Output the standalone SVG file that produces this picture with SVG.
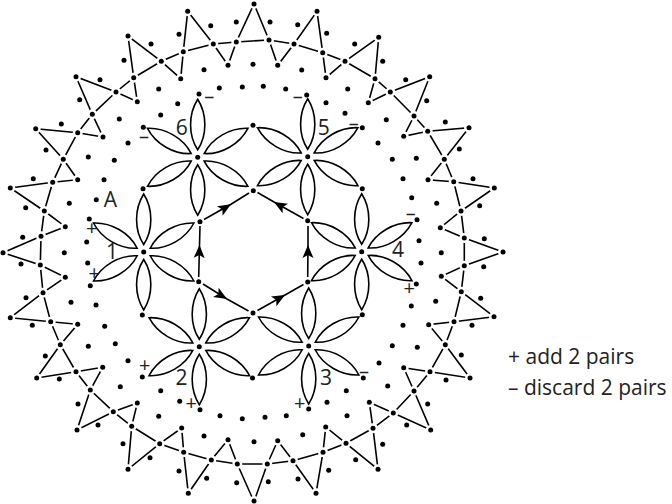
<svg xmlns="http://www.w3.org/2000/svg" width="672" height="504" viewBox="0 0 672 504">
<style>
text{font-family:"Open Sans","Noto Sans",sans-serif;fill:#222}
.n{font-size:21px;text-anchor:middle}
.m{font-size:20px;text-anchor:middle}
.l{font-size:21px}
.s{fill:none;stroke:#000;stroke-width:1.6}
.d{fill:#000}
.h{fill:#000;stroke:#fff;stroke-width:5;paint-order:stroke}
</style>
<defs>
<path id="p" class="s" d="M0,-7.5C-9.5,-22 -9.5,-43 0,-58C9.5,-43 9.5,-22 0,-7.5Z"/>
<g id="petals">
<use href="#p"/><use href="#p" transform="rotate(60)"/><use href="#p" transform="rotate(120)"/><use href="#p" transform="rotate(180)"/><use href="#p" transform="rotate(240)"/><use href="#p" transform="rotate(300)"/>
</g>
<marker id="a" markerUnits="userSpaceOnUse" markerWidth="16" markerHeight="14" refX="14" refY="7" orient="auto">
<path d="M14,7L1,1.5L4,7L1,12.5Z" fill="#000"/>
</marker>
</defs>
<g id="connectors">
<path id="ring" class="s" d="M41,236.3L44.3,211L52.7,182.3L63.3,159.3L77.7,132.7L92.3,114.3L116,92L133.7,77.7L161.3,61.3L183.3,51.7L213.3,44L236.3,42L269,40L294,44L322.7,52.7L345,61.3L375,78.7L390.3,92L414,116L427.7,131.3L444.3,159.3L453.7,181.7L461,211L464.3,238L464.3,265.7L461.3,291.7L454,321.7L445.3,344.7L430,371.7L414,391L393.3,413L373,428.3L346,443.3L323,452.3L293,460.7L267.3,464L237.3,464L211.3,460L183.7,452.3L159.7,443.7L131.7,426.3L113.3,411.7L90.3,390L76,371.7L60.3,344.7L50.7,321.7L43,292.7L40.3,265Z"/>
<path id="bows" class="s" d="M183.3,51.7L187.7,11.3L213.3,44L228,65.3L236.3,42L254,4L269,40L277.7,65.3L294,44L317,11.3L322.7,52.7L326,77.7L345,61.3L378.7,37.3L375,78.7L368.3,102.7L390.3,92L429.7,76.7L414,116L403.7,136.3L427.7,131.3L469,127.7L444.3,159.3L428,179.7L453.7,181.7L494.3,188L461,211L440.3,227.7L464.3,238L503,252L464.3,265.7L441.3,276.3L461.3,291.7L494,316.7L454,321.7L428.7,324.7L445.3,344.7L470,378L430,371.7L403.7,367.7L414,391L430.7,430L393.3,413L369.3,402.3L373,428.3L378,469.3L346,443.3L325.7,427L323,452.3L316,493.3L293,460.7L277.7,440.7L267.3,464L254,501.7L237.3,464L228,439.7L211.3,460L188.3,493.3L183.7,452.3L181.7,428L159.7,443.7L128,469.3L131.7,426.3L137.3,403L113.3,411.7L77,430L90.3,390L102.7,367.3L76,371.7L36.7,378L60.3,344.7L77.7,324.3L50.7,321.7L10.3,317.7L43,292.7L65.3,277.3L40.3,265L3,252.7L41,236.3L65.3,226.7L44.3,211L10.3,188L52.7,182.3L77.7,179.7L63.3,159.3L35.7,128.7L77.7,132.7L103,137L92.3,114.3L76,76.7L116,92L137.3,101.7L133.7,77.7L128,36L161.3,61.3L180.7,78.7L183.3,51.7"/>
<path class="s" marker-mid="url(#a)" d="M198.7,277L199.5,245L200,226"/>
<path class="s" marker-mid="url(#a)" d="M204,219.5L231,204.3L249,193"/>
<path class="s" marker-mid="url(#a)" d="M303.5,218.5L274,202L257.5,192.5"/>
<path class="s" marker-mid="url(#a)" d="M307.7,277L308,245L308,226"/>
<path class="s" marker-mid="url(#a)" d="M203,284L227,299L248.5,311"/>
<path class="s" marker-mid="url(#a)" d="M257.5,310.5L285,295L303.5,284.5"/>
</g>
<g id="ring-dots">
<circle class="h" r="2.5" cx="41" cy="236.3"/><circle class="h" r="2.5" cx="44.3" cy="211"/><circle class="h" r="2.5" cx="52.7" cy="182.3"/><circle class="h" r="2.5" cx="63.3" cy="159.3"/><circle class="h" r="2.5" cx="77.7" cy="132.7"/><circle class="h" r="2.5" cx="92.3" cy="114.3"/><circle class="h" r="2.5" cx="116" cy="92"/><circle class="h" r="2.5" cx="133.7" cy="77.7"/><circle class="h" r="2.5" cx="161.3" cy="61.3"/><circle class="h" r="2.5" cx="183.3" cy="51.7"/><circle class="h" r="2.5" cx="213.3" cy="44"/><circle class="h" r="2.5" cx="236.3" cy="42"/><circle class="h" r="2.5" cx="269" cy="40"/><circle class="h" r="2.5" cx="294" cy="44"/><circle class="h" r="2.5" cx="322.7" cy="52.7"/><circle class="h" r="2.5" cx="345" cy="61.3"/><circle class="h" r="2.5" cx="375" cy="78.7"/><circle class="h" r="2.5" cx="390.3" cy="92"/><circle class="h" r="2.5" cx="414" cy="116"/><circle class="h" r="2.5" cx="427.7" cy="131.3"/><circle class="h" r="2.5" cx="444.3" cy="159.3"/><circle class="h" r="2.5" cx="453.7" cy="181.7"/><circle class="h" r="2.5" cx="461" cy="211"/><circle class="h" r="2.5" cx="464.3" cy="238"/><circle class="h" r="2.5" cx="464.3" cy="265.7"/><circle class="h" r="2.5" cx="461.3" cy="291.7"/><circle class="h" r="2.5" cx="454" cy="321.7"/><circle class="h" r="2.5" cx="445.3" cy="344.7"/><circle class="h" r="2.5" cx="430" cy="371.7"/><circle class="h" r="2.5" cx="414" cy="391"/><circle class="h" r="2.5" cx="393.3" cy="413"/><circle class="h" r="2.5" cx="373" cy="428.3"/><circle class="h" r="2.5" cx="346" cy="443.3"/><circle class="h" r="2.5" cx="323" cy="452.3"/><circle class="h" r="2.5" cx="293" cy="460.7"/><circle class="h" r="2.5" cx="267.3" cy="464"/><circle class="h" r="2.5" cx="237.3" cy="464"/><circle class="h" r="2.5" cx="211.3" cy="460"/><circle class="h" r="2.5" cx="183.7" cy="452.3"/><circle class="h" r="2.5" cx="159.7" cy="443.7"/><circle class="h" r="2.5" cx="131.7" cy="426.3"/><circle class="h" r="2.5" cx="113.3" cy="411.7"/><circle class="h" r="2.5" cx="90.3" cy="390"/><circle class="h" r="2.5" cx="76" cy="371.7"/><circle class="h" r="2.5" cx="60.3" cy="344.7"/><circle class="h" r="2.5" cx="50.7" cy="321.7"/><circle class="h" r="2.5" cx="43" cy="292.7"/><circle class="h" r="2.5" cx="40.3" cy="265"/>
</g>
<g id="tip-dots">
<circle class="h" r="2.5" cx="187.7" cy="11.3"/><circle class="h" r="2.5" cx="228" cy="65.3"/><circle class="h" r="2.5" cx="254" cy="4"/><circle class="h" r="2.5" cx="277.7" cy="65.3"/><circle class="h" r="2.5" cx="317" cy="11.3"/><circle class="h" r="2.5" cx="326" cy="77.7"/><circle class="h" r="2.5" cx="378.7" cy="37.3"/><circle class="h" r="2.5" cx="368.3" cy="102.7"/><circle class="h" r="2.5" cx="429.7" cy="76.7"/><circle class="h" r="2.5" cx="403.7" cy="136.3"/><circle class="h" r="2.5" cx="469" cy="127.7"/><circle class="h" r="2.5" cx="428" cy="179.7"/><circle class="h" r="2.5" cx="494.3" cy="188"/><circle class="h" r="2.5" cx="440.3" cy="227.7"/><circle class="h" r="2.5" cx="503" cy="252"/><circle class="h" r="2.5" cx="441.3" cy="276.3"/><circle class="h" r="2.5" cx="494" cy="316.7"/><circle class="h" r="2.5" cx="428.7" cy="324.7"/><circle class="h" r="2.5" cx="470" cy="378"/><circle class="h" r="2.5" cx="403.7" cy="367.7"/><circle class="h" r="2.5" cx="430.7" cy="430"/><circle class="h" r="2.5" cx="369.3" cy="402.3"/><circle class="h" r="2.5" cx="378" cy="469.3"/><circle class="h" r="2.5" cx="325.7" cy="427"/><circle class="h" r="2.5" cx="316" cy="493.3"/><circle class="h" r="2.5" cx="277.7" cy="440.7"/><circle class="h" r="2.5" cx="254" cy="501"/><circle class="h" r="2.5" cx="228" cy="439.7"/><circle class="h" r="2.5" cx="188.3" cy="493.3"/><circle class="h" r="2.5" cx="181.7" cy="428"/><circle class="h" r="2.5" cx="128" cy="469.3"/><circle class="h" r="2.5" cx="137.3" cy="403"/><circle class="h" r="2.5" cx="77" cy="430"/><circle class="h" r="2.5" cx="102.7" cy="367.3"/><circle class="h" r="2.5" cx="36.7" cy="378"/><circle class="h" r="2.5" cx="77.7" cy="324.3"/><circle class="h" r="2.5" cx="10.3" cy="317.7"/><circle class="h" r="2.5" cx="65.3" cy="277.3"/><circle class="h" r="2.5" cx="3" cy="252.7"/><circle class="h" r="2.5" cx="65.3" cy="226.7"/><circle class="h" r="2.5" cx="10.3" cy="188"/><circle class="h" r="2.5" cx="77.7" cy="179.7"/><circle class="h" r="2.5" cx="35.7" cy="128.7"/><circle class="h" r="2.5" cx="103" cy="137"/><circle class="h" r="2.5" cx="76" cy="76.7"/><circle class="h" r="2.5" cx="137.3" cy="101.7"/><circle class="h" r="2.5" cx="128" cy="36"/><circle class="h" r="2.5" cx="180.7" cy="78.7"/>
</g>
<g id="free-dots">
<circle class="d" r="2.5" cx="210.7" cy="25.7"/><circle class="d" r="2.5" cx="179" cy="34.3"/><circle class="d" r="2.5" cx="124" cy="60.3"/><circle class="d" r="2.5" cx="151" cy="44"/><circle class="d" r="2.5" cx="79.7" cy="99.7"/><circle class="d" r="2.5" cx="100" cy="79.7"/><circle class="d" r="2.5" cx="46" cy="150"/><circle class="d" r="2.5" cx="61.3" cy="124"/><circle class="d" r="2.5" cx="25.7" cy="207.7"/><circle class="d" r="2.5" cx="33.3" cy="178.7"/><circle class="d" r="2.5" cx="22.7" cy="237.3"/><circle class="d" r="2.5" cx="21" cy="264"/><circle class="d" r="2.5" cx="26" cy="297.7"/><circle class="d" r="2.5" cx="32.3" cy="325.3"/><circle class="d" r="2.5" cx="45.3" cy="356"/><circle class="d" r="2.5" cx="59.3" cy="379"/><circle class="d" r="2.5" cx="78" cy="404"/><circle class="d" r="2.5" cx="98" cy="425"/><circle class="d" r="2.5" cx="123" cy="443.7"/><circle class="d" r="2.5" cx="150" cy="457.7"/><circle class="d" r="2.5" cx="179" cy="471"/><circle class="d" r="2.5" cx="206.7" cy="478.3"/><circle class="d" r="2.5" cx="236.7" cy="482.7"/><circle class="d" r="2.5" cx="268.3" cy="481.7"/><circle class="d" r="2.5" cx="298" cy="479"/><circle class="d" r="2.5" cx="328.7" cy="470.3"/><circle class="d" r="2.5" cx="355.7" cy="459.7"/><circle class="d" r="2.5" cx="382.7" cy="444.3"/><circle class="d" r="2.5" cx="406.7" cy="425"/><circle class="d" r="2.5" cx="427.7" cy="404"/><circle class="d" r="2.5" cx="446" cy="380"/><circle class="d" r="2.5" cx="461.3" cy="355"/><circle class="d" r="2.5" cx="472" cy="325.3"/><circle class="d" r="2.5" cx="480.7" cy="298.3"/><circle class="d" r="2.5" cx="483.7" cy="266.7"/><circle class="d" r="2.5" cx="484.3" cy="238.7"/><circle class="d" r="2.5" cx="479.7" cy="205.7"/><circle class="d" r="2.5" cx="473" cy="178.7"/><circle class="d" r="2.5" cx="459.3" cy="149"/><circle class="d" r="2.5" cx="445.3" cy="122"/><circle class="d" r="2.5" cx="426.7" cy="100.7"/><circle class="d" r="2.5" cx="405.7" cy="79.7"/><circle class="d" r="2.5" cx="382.7" cy="61.3"/><circle class="d" r="2.5" cx="354.7" cy="44"/><circle class="d" r="2.5" cx="326.7" cy="33.3"/><circle class="d" r="2.5" cx="297.7" cy="24.7"/><circle class="d" r="2.5" cx="270" cy="22"/><circle class="d" r="2.5" cx="236.3" cy="22"/>
<circle class="d" r="2.5" cx="204" cy="69.7"/><circle class="d" r="2.5" cx="242.3" cy="87"/><circle class="d" r="2.5" cx="219.3" cy="88"/><circle class="d" r="2.5" cx="158.7" cy="89"/><circle class="d" r="2.5" cx="177.7" cy="103.7"/><circle class="d" r="2.5" cx="160.7" cy="115"/><circle class="d" r="2.5" cx="119.3" cy="119"/><circle class="d" r="2.5" cx="128" cy="143"/><circle class="d" r="2.5" cx="88.3" cy="157"/><circle class="d" r="2.5" cx="114.3" cy="160.3"/><circle class="d" r="2.5" cx="104" cy="179.7"/><circle class="d" r="2.5" cx="69.3" cy="203.3"/><circle class="d" r="2.5" cx="96.3" cy="199.7"/><circle class="d" r="2.5" cx="86.7" cy="242"/><circle class="d" r="2.5" cx="253" cy="64.3"/><circle class="d" r="2.5" cx="301.7" cy="70"/><circle class="d" r="2.5" cx="263.3" cy="86.3"/><circle class="d" r="2.5" cx="285.7" cy="89"/><circle class="d" r="2.5" cx="347.7" cy="89"/><circle class="d" r="2.5" cx="326" cy="102.7"/><circle class="d" r="2.5" cx="345" cy="113.3"/><circle class="d" r="2.5" cx="386.3" cy="119.7"/><circle class="d" r="2.5" cx="378" cy="143"/><circle class="d" r="2.5" cx="392.3" cy="159.3"/><circle class="d" r="2.5" cx="416.3" cy="158.3"/><circle class="d" r="2.5" cx="403" cy="178.7"/><circle class="d" r="2.5" cx="411.7" cy="197.7"/><circle class="d" r="2.5" cx="436.7" cy="203.3"/><circle class="d" r="2.5" cx="419" cy="240.7"/><circle class="d" r="2.5" cx="64.3" cy="252.7"/><circle class="d" r="2.5" cx="87.7" cy="263"/><circle class="d" r="2.5" cx="71" cy="302.3"/><circle class="d" r="2.5" cx="96" cy="305"/><circle class="d" r="2.5" cx="104.7" cy="326.3"/><circle class="d" r="2.5" cx="88.3" cy="346.3"/><circle class="d" r="2.5" cx="115.3" cy="343.7"/><circle class="d" r="2.5" cx="128" cy="360.7"/><circle class="d" r="2.5" cx="120.3" cy="386.7"/><circle class="d" r="2.5" cx="160.7" cy="390.7"/><circle class="d" r="2.5" cx="179.7" cy="401.3"/><circle class="d" r="2.5" cx="158.7" cy="416.3"/><circle class="d" r="2.5" cx="204" cy="436"/><circle class="d" r="2.5" cx="220" cy="415.7"/><circle class="d" r="2.5" cx="242.3" cy="418.7"/><circle class="d" r="2.5" cx="441.3" cy="252.7"/><circle class="d" r="2.5" cx="421" cy="263"/><circle class="d" r="2.5" cx="411.3" cy="306"/><circle class="d" r="2.5" cx="435.7" cy="301.3"/><circle class="d" r="2.5" cx="403" cy="325.3"/><circle class="d" r="2.5" cx="392.3" cy="345.7"/><circle class="d" r="2.5" cx="417.3" cy="347.3"/><circle class="d" r="2.5" cx="379" cy="363"/><circle class="d" r="2.5" cx="387.7" cy="386"/><circle class="d" r="2.5" cx="346.3" cy="390.7"/><circle class="d" r="2.5" cx="327" cy="402.3"/><circle class="d" r="2.5" cx="347" cy="415.7"/><circle class="d" r="2.5" cx="302.7" cy="434.7"/><circle class="d" r="2.5" cx="286.3" cy="415.7"/><circle class="d" r="2.5" cx="265" cy="417.3"/><circle class="d" r="2.5" cx="254" cy="441.7"/>
</g>
<g id="flower-tip-dots">
<circle class="d" r="2.5" cx="199" cy="94"/><circle class="d" r="2.5" cx="143.3" cy="127.3"/><circle class="d" r="2.5" cx="143" cy="188.7"/><circle class="d" r="2.5" cx="200" cy="221.7"/><circle class="d" r="2.5" cx="253.3" cy="190.7"/><circle class="d" r="2.5" cx="253" cy="125.3"/><circle class="d" r="2.5" cx="306.7" cy="95"/><circle class="d" r="2.5" cx="362.3" cy="127.7"/><circle class="d" r="2.5" cx="362.3" cy="188.7"/><circle class="d" r="2.5" cx="307.7" cy="220.7"/><circle class="d" r="2.5" cx="89.3" cy="219"/><circle class="d" r="2.5" cx="90.3" cy="285.7"/><circle class="d" r="2.5" cx="142.3" cy="315"/><circle class="d" r="2.5" cx="198.7" cy="281.7"/><circle class="d" r="2.5" cx="417" cy="219.7"/><circle class="d" r="2.5" cx="416.3" cy="284"/><circle class="d" r="2.5" cx="362.3" cy="314.7"/><circle class="d" r="2.5" cx="307.7" cy="282"/><circle class="d" r="2.5" cx="142.3" cy="377"/><circle class="d" r="2.5" cx="200" cy="409.7"/><circle class="d" r="2.5" cx="252.5" cy="378"/><circle class="d" r="2.5" cx="253" cy="313"/><circle class="d" r="2.5" cx="363.3" cy="378"/><circle class="d" r="2.5" cx="308.7" cy="409"/>
</g>
<g id="flower-1"><use href="#petals" x="143.7" y="252"/><circle class="d" r="2.5" cx="143.7" cy="252"/><text class="n" x="112" y="258.5">1</text><text class="m" x="91.7" y="234.5">+</text><text class="m" x="94.3" y="280">+</text></g>
<g id="flower-2"><use href="#petals" x="199.3" y="346.7"/><circle class="d" r="2.5" cx="199.3" cy="346.7"/><text class="n" x="181.5" y="385">2</text><text class="m" x="144.7" y="372">+</text><text class="m" x="191.3" y="410">+</text></g>
<g id="flower-3"><use href="#petals" x="308.7" y="346"/><circle class="d" r="2.5" cx="308.7" cy="346"/><text class="n" x="326" y="384.5">3</text><text class="m" x="299.7" y="410">+</text><text class="m" x="364" y="378">–</text></g>
<g id="flower-4"><use href="#petals" x="361.7" y="251.7"/><circle class="d" r="2.5" cx="361.7" cy="251.7"/><text class="n" x="398" y="257">4</text><text class="m" x="409.3" y="295">+</text><text class="m" x="410.7" y="220">–</text></g>
<g id="flower-5"><use href="#petals" x="307.7" y="156.7"/><circle class="d" r="2.5" cx="307.7" cy="156.7"/><text class="n" x="323.7" y="135">5</text><text class="m" x="297.7" y="103">–</text><text class="m" x="353.7" y="130">–</text></g>
<g id="flower-6"><use href="#petals" x="197.7" y="157.3"/><circle class="d" r="2.5" cx="197.7" cy="157.3"/><text class="n" x="181.7" y="135">6</text><text class="m" x="209.3" y="103">–</text><text class="m" x="144" y="143">–</text></g>
<text id="label-a" class="n" x="110.3" y="207">A</text>
<g id="legend"><text class="l" x="508" y="363.5">+ add 2 pairs</text><text class="l" x="508" y="395">– discard 2 pairs</text></g>
</svg>
